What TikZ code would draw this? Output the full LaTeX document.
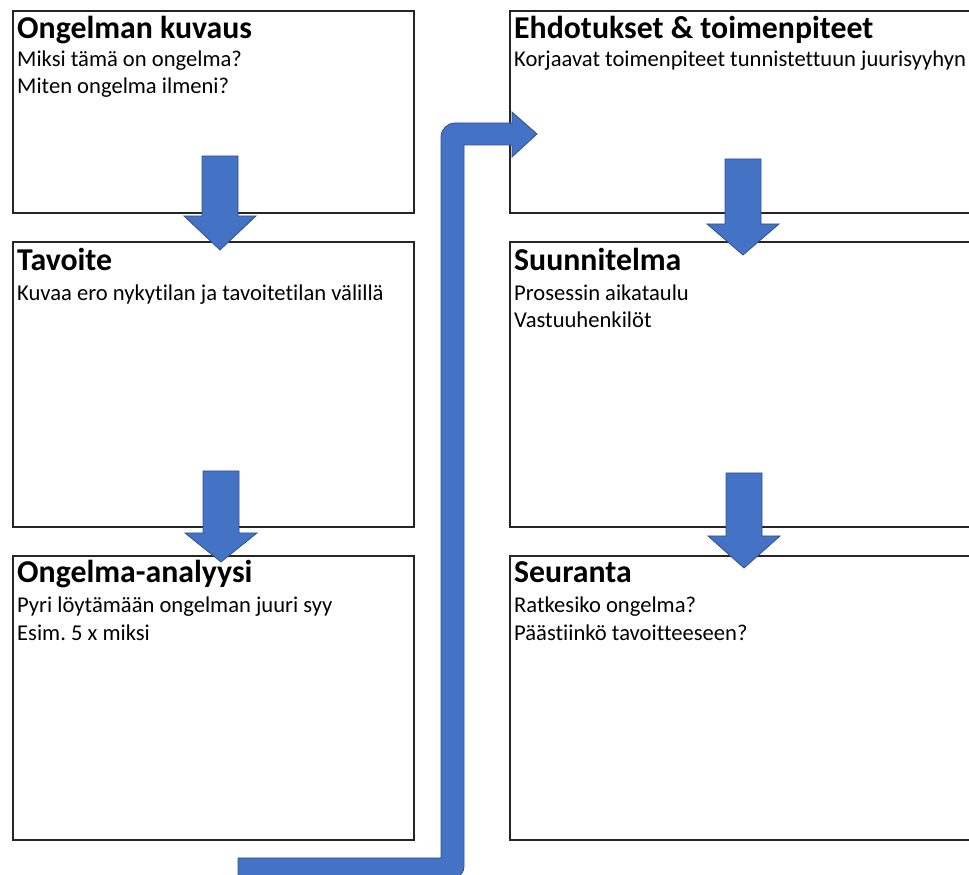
\documentclass[tikz,border=0pt]{standalone}
\usepackage{fontspec}
\setmainfont[Ligatures=CommonOff]{Carlito}
\frenchspacing
\begin{document}
\begin{tikzpicture}[x=1pt,y=1pt,
  panel/.style={draw=black!85, line width=1.8pt, anchor=north west, inner sep=0pt},
  ttl/.style={anchor=base west, inner sep=0pt, font=\fontsize{31.8}{38}\selectfont\bfseries},
  txt/.style={anchor=base west, inner sep=0pt, font=\fontsize{22.6}{27}\selectfont},
  blockarrow/.style={fill=arrowblue, draw=arrowedge, line width=0.8pt, line join=miter}]
\definecolor{arrowblue}{HTML}{4472C4}
\definecolor{arrowedge}{HTML}{2F528F}
\useasboundingbox (0,0) rectangle (969,875);
\clip (0,0) rectangle (969,875);

% left column of panels
\node[panel, minimum width=401pt, minimum height=202pt] (kuvaus) at (12,865) {};
\node[panel, minimum width=401pt, minimum height=285pt] (tavoite) at (12,634) {};
\node[panel, minimum width=401pt, minimum height=284pt] (analyysi) at (12,320) {};
% right column of panels (running past the right edge)
\node[panel, minimum width=476pt, minimum height=202pt] (ehdotukset) at (509,865) {};
\node[panel, minimum width=476pt, minimum height=285pt] (suunnitelma) at (509,634) {};
\node[panel, minimum width=476pt, minimum height=284pt] (seuranta) at (509,320) {};

% panel texts
\node[ttl] (t1) at ([xshift=5pt,yshift=-29pt]kuvaus.north west) {Ongelman kuvaus};
\node[txt] (k1) at ([xshift=5pt,yshift=-57pt]kuvaus.north west) {Miksi tämä on ongelma?};
\node[txt] (k2) at ([xshift=5pt,yshift=-84pt]kuvaus.north west) {Miten ongelma ilmeni?};

\node[ttl] (t2) at ([xshift=5pt,yshift=-30pt]tavoite.north west) {Tavoite};
\node[txt] (v1) at ([xshift=5pt,yshift=-60pt]tavoite.north west) {Kuvaa ero nykytilan ja tavoitetilan välillä};

\node[ttl] (t3) at ([xshift=5pt,yshift=-28pt]analyysi.north west) {Ongelma-analyysi};
\node[txt] (a1) at ([xshift=5pt,yshift=-58pt]analyysi.north west) {Pyri löytämään ongelman juuri syy};
\node[txt] (a2) at ([xshift=5pt,yshift=-86pt]analyysi.north west) {Esim. 5 x miksi};

\node[ttl] (t4) at ([xshift=5pt,yshift=-29pt]ehdotukset.north west) {Ehdotukset \& toimenpiteet};
\node[txt] (e1) at ([xshift=5pt,yshift=-57pt]ehdotukset.north west) {Korjaavat toimenpiteet tunnistettuun juurisyyhyn};

\node[ttl] (t5) at ([xshift=5pt,yshift=-30pt]suunnitelma.north west) {Suunnitelma};
\node[txt] (s1) at ([xshift=5pt,yshift=-60pt]suunnitelma.north west) {Prosessin aikataulu};
\node[txt] (s2) at ([xshift=5pt,yshift=-87pt]suunnitelma.north west) {Vastuuhenkilöt};

\node[ttl] (t6) at ([xshift=5pt,yshift=-28pt]seuranta.north west) {Seuranta};
\node[txt] (r1) at ([xshift=5pt,yshift=-58pt]seuranta.north west) {Ratkesiko ongelma?};
\node[txt] (r2) at ([xshift=5pt,yshift=-86pt]seuranta.north west) {Päästiinkö tavoitteeseen?};

% downward block arrows: centre x, shaft top, head base, tip
\newcommand{\blockdown}[4]{%
  \draw[blockarrow] (#1-18,#2) -- (#1+18,#2) -- (#1+18,#3) -- (#1+36,#3)
    -- (#1,#4) -- (#1-36,#3) -- (#1-18,#3) -- cycle;}
\blockdown{220}{719}{659}{625}
\blockdown{221}{404}{342}{313}
\blockdown{743}{716}{651}{620}
\blockdown{744}{402}{339}{307}

% bent arrow from the bottom of the left column up to the right column
\draw[blockarrow] (238,17) -- (441,17) -- (441,738)
  arc[start angle=180, end angle=90, radius=14] -- (512,752) -- (512,763)
  -- (537,741) -- (512,718) -- (512,730) -- (464,730) -- (464,9)
  arc[start angle=0, end angle=-90, radius=14] -- (238,-5) -- cycle;
\end{tikzpicture}
\end{document}
